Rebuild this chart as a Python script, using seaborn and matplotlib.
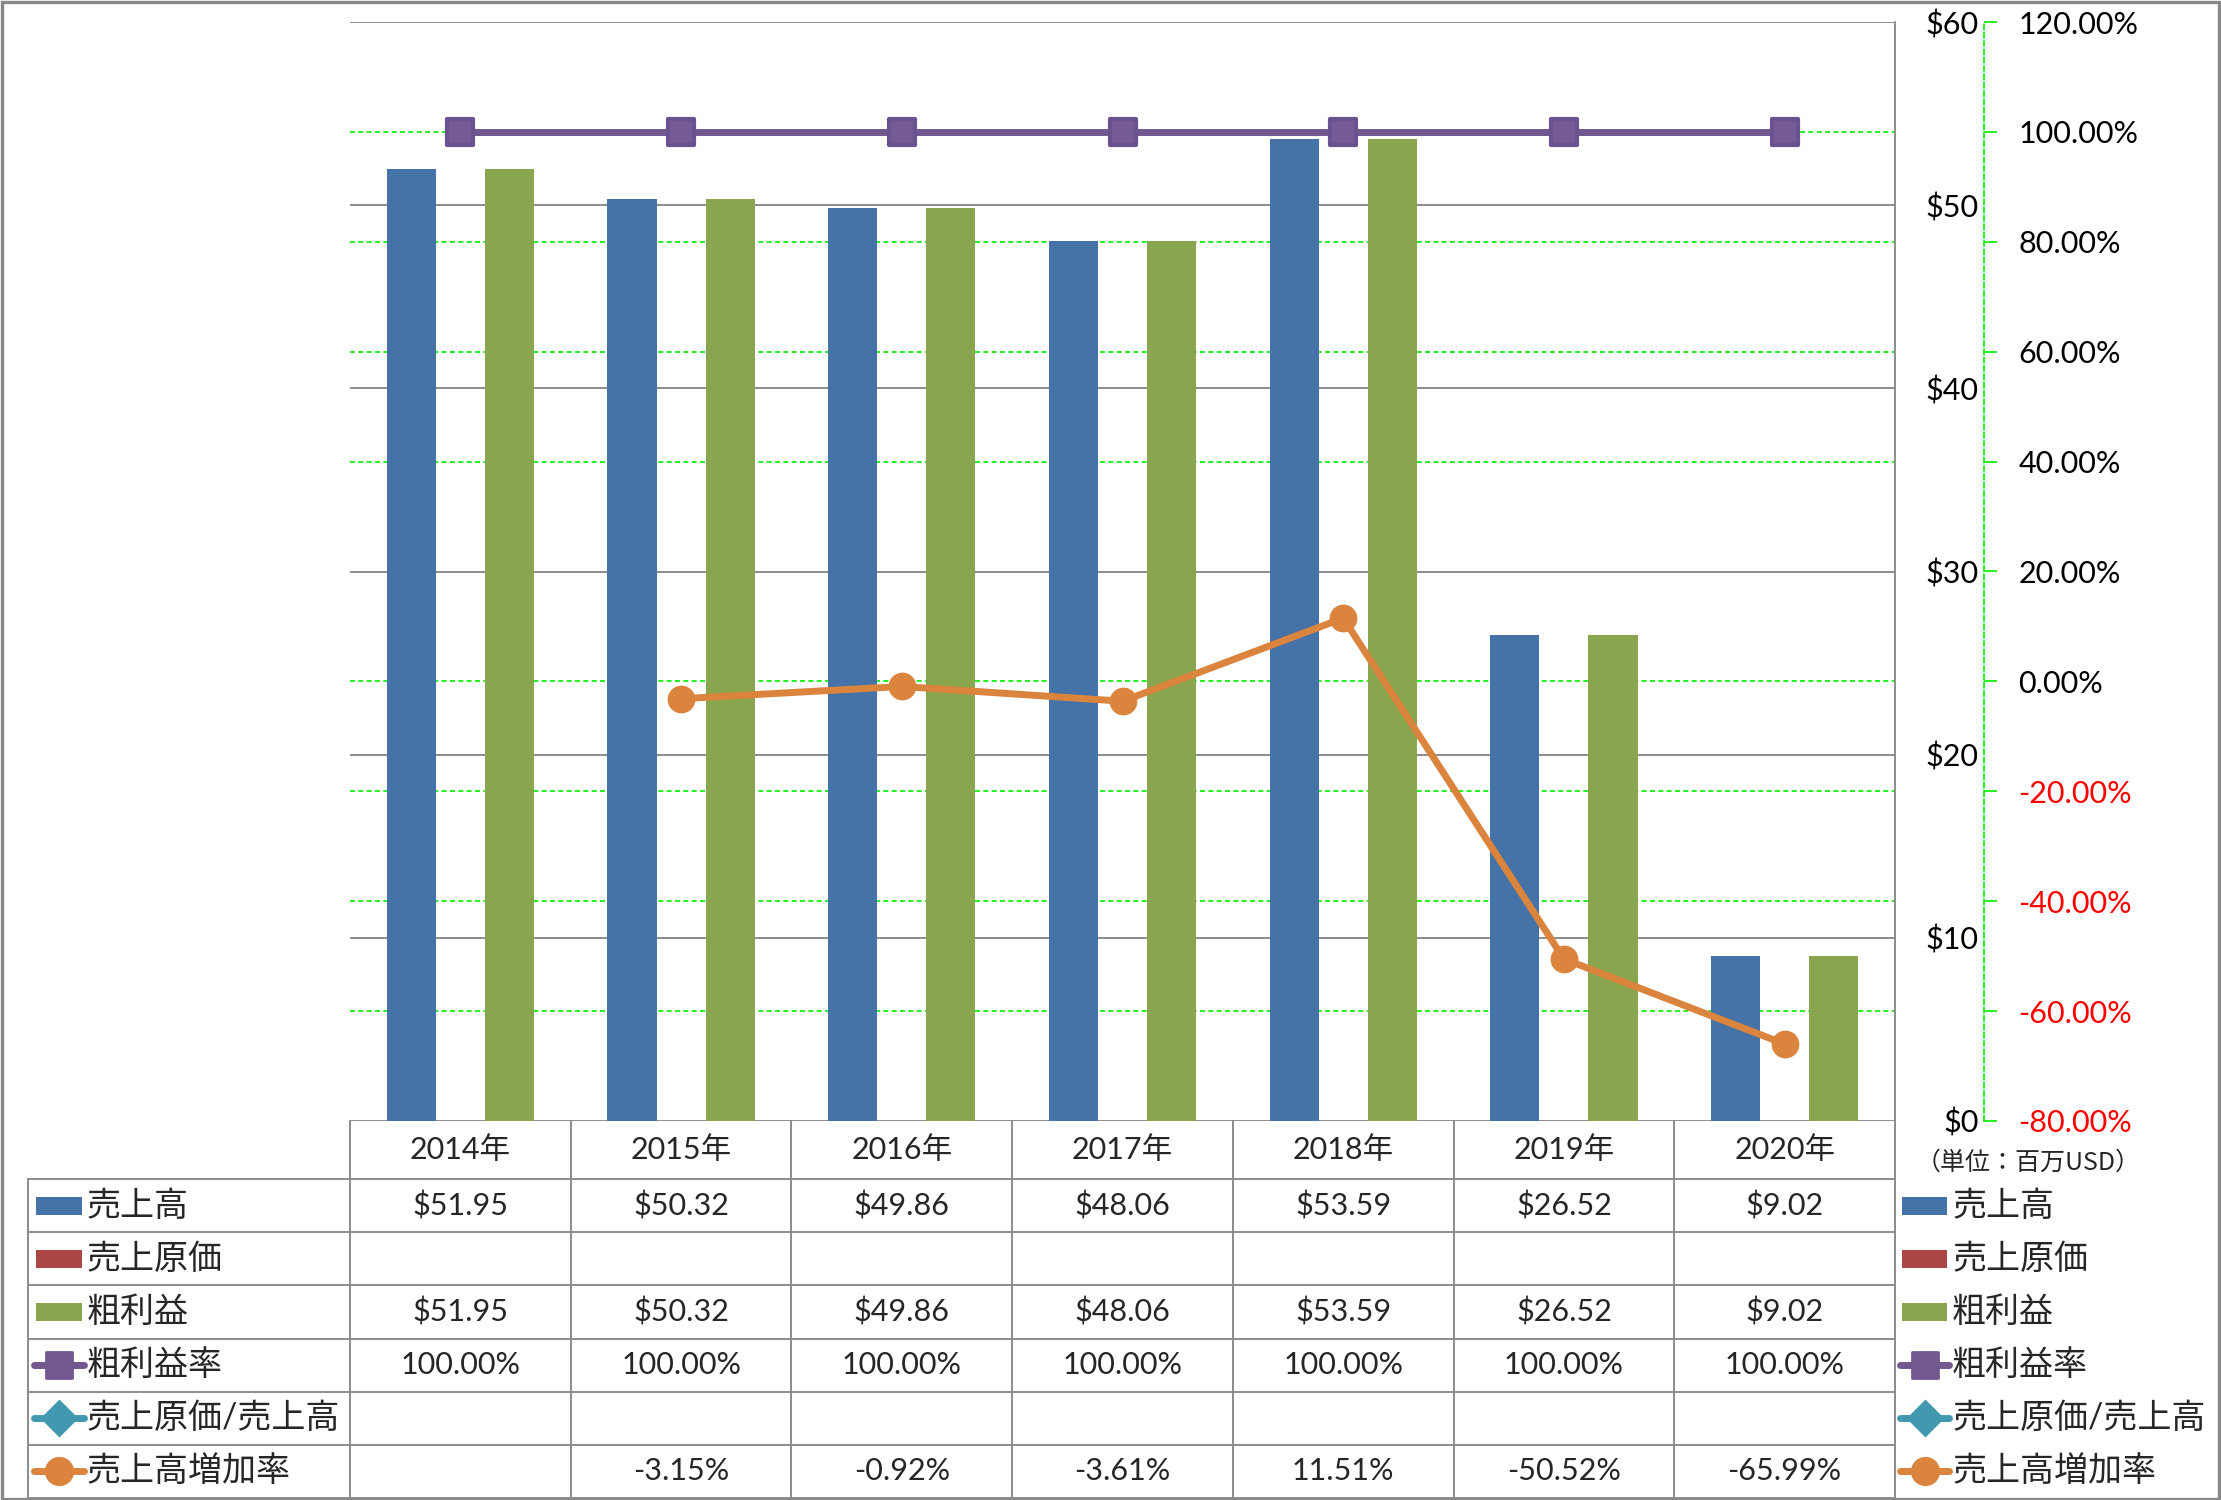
import numpy as np
import pandas as pd
import matplotlib
matplotlib.use('Agg')
import matplotlib.pyplot as plt
import seaborn as sns
from matplotlib.ticker import FixedLocator, FuncFormatter, MultipleLocator
from matplotlib.markers import MarkerStyle
from matplotlib.lines import Line2D
from matplotlib.patches import Rectangle

# ---------------- data ----------------
years = ['2014年', '2015年', '2016年', '2017年', '2018年', '2019年', '2020年']
sales = [51.95, 50.32, 49.86, 48.06, 53.59, 26.52, 9.02]
cogs = [np.nan] * 7
gross = [51.95, 50.32, 49.86, 48.06, 53.59, 26.52, 9.02]
gross_margin = [100.0, 100.0, 100.0, 100.0, 100.0, 100.0, 100.0]
cogs_ratio = [np.nan] * 7
growth = [np.nan, -3.15, -0.92, -3.61, 11.51, -50.52, -65.99]
series_names = ['売上高', '売上原価', '粗利益', '粗利益率', '売上原価/売上高', '売上高増加率']
usd_ticks = [0, 10, 20, 30, 40, 50, 60]
pct_ticks = [-80, -60, -40, -20, 0, 20, 40, 60, 80, 100, 120]
unit_label = '（単位：百万USD）'

C_BLUE = '#4572A7'
C_RED = '#AA4643'
C_GREEN = '#89A54E'
C_PURPLE = '#71588F'
C_TEAL = '#4198AF'
C_ORANGE = '#DB843D'
C_GRID = '#8C8C8C'
C_LGREEN = '#00EE00'

sns.set_style('white')
plt.rcParams['font.family'] = ['Lato', 'Noto Sans CJK JP', 'DejaVu Sans']

FS_NUM = 22
FS_JP = 24.5

W, H = 2221, 1500
fig = plt.figure(figsize=(W / 100, H / 100), dpi=100)
L, R, T, B = 350, 1895, 22, 1121
TL = 28          # table left edge
TB = 1498        # table bottom
HR = 1179        # header row bottom

ax = fig.add_axes([L / W, 1 - B / H, (R - L) / W, (B - T) / H])

df = pd.DataFrame({
    'year': years * 3,
    'series': [series_names[0]] * 7 + [series_names[1]] * 7 + [series_names[2]] * 7,
    'value': sales + cogs + gross,
})
sns.barplot(data=df, x='year', y='value', hue='series', order=years,
            hue_order=series_names[:3], palette=[C_BLUE, C_RED, C_GREEN],
            width=0.667, gap=0, errorbar=None, saturation=1, legend=False,
            linewidth=0, ax=ax)

ax2 = ax.twinx()

ax.set_xlim(-0.5, len(years) - 0.5)
ax.set_ylim(usd_ticks[0], usd_ticks[-1])
ax.yaxis.tick_right()
ax.yaxis.set_major_locator(FixedLocator(usd_ticks))
ax.yaxis.set_major_formatter(FuncFormatter(lambda v, p: f'${v:.0f}'))
ax.yaxis.set_minor_locator(MultipleLocator((usd_ticks[-1] - usd_ticks[0]) / (len(pct_ticks) - 1)))
ax.grid(True, which='major', axis='y', color=C_GRID, lw=1.4, ls='-')
ax.grid(True, which='minor', axis='y', color=C_LGREEN, lw=1.2, ls=(0, (3, 2)))
ax.grid(False, axis='x')
ax.set_axisbelow(True)
ax.tick_params(axis='y', which='major', length=0, pad=60, labelsize=FS_NUM,
               labelcolor='black', labelleft=False, labelright=True)
ax.tick_params(axis='y', which='minor', length=0)
ax.tick_params(axis='x', length=0, labelbottom=False)
for t in ax.yaxis.get_major_ticks():
    t.label2.set_horizontalalignment('right')
for s in ax.spines.values():
    s.set_visible(False)
ax.set_xlabel('')
ax.set_ylabel('')

sq = MarkerStyle('s', joinstyle='round')
sns.lineplot(x=np.arange(len(years)), y=gross_margin, ax=ax2, color=C_PURPLE,
             lw=5, marker=sq, markersize=19, markeredgewidth=3,
             markeredgecolor='#6A5290', markerfacecolor='#745B96')
sns.lineplot(x=np.arange(len(years)), y=growth, ax=ax2, color=C_ORANGE,
             lw=5, marker='o', markersize=20, markeredgewidth=0)
ax2.set_ylim(pct_ticks[0], pct_ticks[-1])
ax2.yaxis.set_major_locator(FixedLocator(pct_ticks))
ax2.yaxis.set_major_formatter(FuncFormatter(lambda v, p: f'{v:.2f}%'))
for k in ['top', 'left', 'bottom']:
    ax2.spines[k].set_visible(False)
ax2.spines['right'].set_position(('outward', 64))
ax2.spines['right'].set_color(C_LGREEN)
ax2.spines['right'].set_linestyle((0, (3, 2)))
ax2.spines['right'].set_linewidth(1.2)
ax2.tick_params(axis='y', length=9, width=1.2, color=C_LGREEN, pad=16, labelsize=FS_NUM)
ax2.grid(False)
ax2.set_ylabel('')
for t, v in zip(ax2.yaxis.get_major_ticks(), pct_ticks):
    t.label2.set_color('red' if v < 0 else 'black')

# ---------------- data table ----------------
tax = fig.add_axes([0, 0, 1, 1])
tax.set_xlim(0, W)
tax.set_ylim(H, 0)
tax.axis('off')

n = len(years)
cw = (R - L) / n
rh = (TB - HR) / 6
lc = dict(color=C_GRID, lw=1.4)
for i in range(n + 1):
    tax.plot([L + i * cw] * 2, [B, TB], **lc)
tax.plot([R, R], [T, TB], **lc)
tax.plot([TL, TL], [HR, TB], **lc)
for k in range(7):
    tax.plot([TL, R], [HR + k * rh] * 2, **lc)

for i, y in enumerate(years):
    tax.text(L + (i + 0.5) * cw, (B + HR) / 2, y, ha='center', va='center', fontsize=FS_NUM)

rows = [
    [f'${v:.2f}' for v in sales],
    ['' if np.isnan(v) else f'${v:.2f}' for v in cogs],
    [f'${v:.2f}' for v in gross],
    [f'{v:.2f}%' for v in gross_margin],
    ['' if np.isnan(v) else f'{v:.2f}%' for v in cogs_ratio],
    ['' if np.isnan(v) else f'{v:.2f}%' for v in growth],
]
for r, vals in enumerate(rows):
    yc = HR + (r + 0.5) * rh
    for i, s in enumerate(vals):
        tax.text(L + (i + 0.5) * cw, yc, s, ha='center', va='center', fontsize=FS_NUM)

# legend keys (left column and right side)
kinds = [('bar', C_BLUE, None), ('bar', C_RED, None), ('bar', C_GREEN, None),
         ('line', C_PURPLE, sq), ('line', C_TEAL, 'D'), ('line', C_ORANGE, 'o')]


def key(x0, x1, yc, kind, col, mk):
    if kind == 'bar':
        tax.add_patch(Rectangle((x0 + 2, yc - 9), x1 - x0 - 4, 18, color=col, lw=0))
    else:
        tax.add_line(Line2D([x0, x1], [yc, yc], color=col, lw=5, solid_capstyle='round'))
        tax.add_line(Line2D([(x0 + x1) / 2], [yc], color=col, marker=mk,
                            markersize=19 if mk != 'D' else 17, markeredgewidth=2,
                            markeredgecolor=col, markerfacecolor=col))


for r, (kind, col, mk) in enumerate(kinds):
    yc = HR + (r + 0.5) * rh
    key(34, 84, yc, kind, col, mk)
    tax.text(87, yc, series_names[r], ha='left', va='center', fontsize=FS_JP)
    key(1900, 1949, yc, kind, col, mk)
    tax.text(1952, yc, series_names[r], ha='left', va='center', fontsize=FS_JP)

tax.text(2028, 1163, unit_label, ha='center', va='center', fontsize=18,
         family=['Noto Sans CJK JP', 'DejaVu Sans'])

# outer frame
tax.add_patch(Rectangle((1.5, 1.5), W - 4, TB - 1, fill=False, edgecolor='#888888', lw=2.4))

fig.savefig('out.png', dpi=100)
